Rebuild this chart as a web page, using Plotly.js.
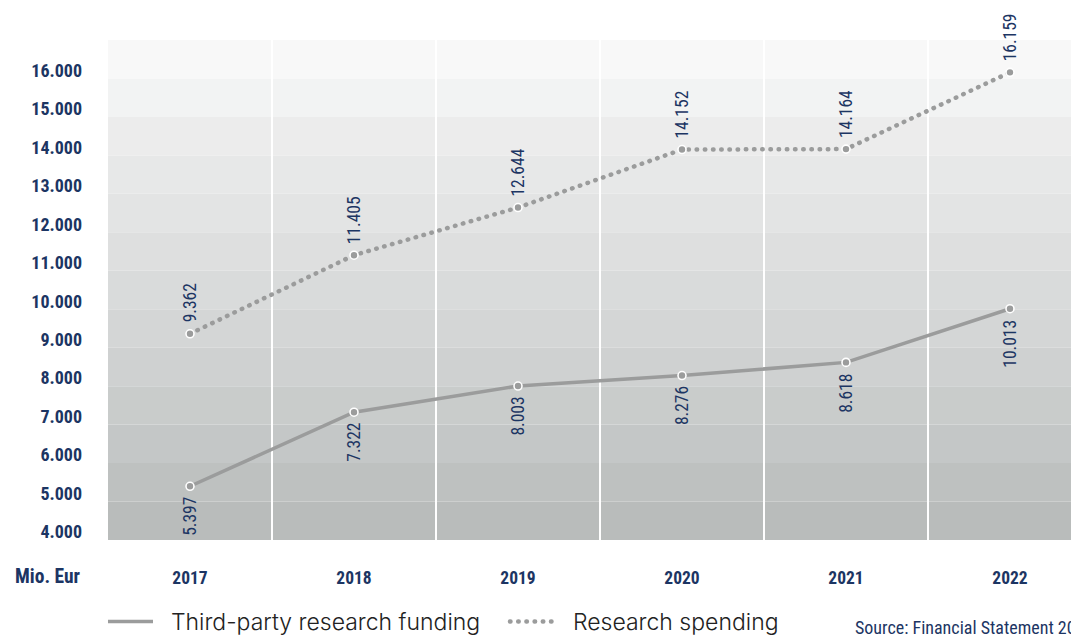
<!DOCTYPE html>
<html>
<head>
<meta charset="utf-8">
<script src="https://cdn.plot.ly/plotly-3.0.1.min.js"></script>
<style>
  html, body { margin: 0; padding: 0; background: #fff; }
  #chart { width: 1071px; height: 638px; }
  path.js-line.roundcap, .roundcap path.js-line { stroke-linecap: round; }
</style>
</head>
<body>
<div id="chart"></div>
<script>
// ---- data ----
const years = ['2017', '2018', '2019', '2020', '2021', '2022'];
const thirdPartyFunding = [5397, 7322, 8003, 8276, 8618, 10013];
const researchSpending = [9362, 11405, 12644, 14152, 14164, 16159];
const yTickValues = [4000, 5000, 6000, 7000, 8000, 9000, 10000, 11000, 12000, 13000, 14000, 15000, 16000];
const yTickLabels = ['4.000', '5.000', '6.000', '7.000', '8.000', '9.000', '10.000', '11.000', '12.000', '13.000', '14.000', '15.000', '16.000'];
const bandEdges = [4000, 5000, 6000, 7000, 8000, 9000, 10000, 11000, 12000, 13000, 14000, 15000, 16000, 17000];
const bandColors = ['#b9bcbb', '#bec1c0', '#c4c7c7', '#c9cccb', '#cfd1d1', '#d4d6d6', '#d9dbdb',
                    '#dedfdf', '#e3e4e4', '#e7e8e8', '#ececec', '#f2f3f3', '#f8f8f8'];
const seriesNames = ['Third-party research funding', 'Research spending'];
const unitLabel = 'Mio. Eur';
const sourceText = 'Source: Financial Statement 2022';

// ---- font helpers ----
const ctx = document.createElement('canvas').getContext('2d');
function hasFont(name) {
  const s = 'mmmmmmmmmmwwwwwlllii0123456789.,';
  for (const base of ['monospace', 'serif']) {
    ctx.font = '72px ' + base;
    const w0 = ctx.measureText(s).width;
    ctx.font = '72px "' + name + '", ' + base;
    if (Math.abs(ctx.measureText(s).width - w0) > 0.5) return true;
  }
  return false;
}
function pick(list) {
  for (const f of list) if (hasFont(f)) return f;
  return list[list.length - 1];
}
function fitSize(sample, targetW, family, weight, minS, maxS) {
  ctx.font = weight + ' 100px "' + family + '", sans-serif';
  const w = ctx.measureText(sample).width;
  let s = targetW * 100 / w;
  return Math.max(minS, Math.min(maxS, Math.round(s * 2) / 2));
}
const narrowFam = pick(['Liberation Sans Narrow', 'Roboto Condensed', 'DejaVu Sans Condensed', 'Roboto']);
const legendFam = pick(['Inter', 'Roboto']);
const NARROW = '"' + narrowFam + '", Roboto, sans-serif';
const LEGENDF = '"' + legendFam + '", Roboto, sans-serif';
const yTickSize = fitSize('16.000', 51, narrowFam, 'bold', 15, 20);
const xTickSize = fitSize('2017', 35, narrowFam, 'bold', 15, 20);
const unitSize = fitSize('Mio. Eur', 65, narrowFam, 'bold', 15, 20);
const labelSize = fitSize('14.152', 48, narrowFam, 'normal', 15, 21);
const sourceSize = fitSize('Source: Financial Statement 20', 218, narrowFam, 'normal', 14, 19);
const legendSize = fitSize('Third-party research funding', 311, legendFam, '300', 19, 25);

// ---- style ----
const NAVY = '#1c3563';
const LINE_GREY = '#9b9c9c';
const PAD = '\u00a0\u00a0';

function fmt(v) {
  return String(v).replace(/\B(?=(\d{3})+(?!\d))/g, '.');
}
const xIdx = years.map((_, i) => i);

const markerStyle = { size: 8, color: LINE_GREY, line: { color: '#ffffff', width: 1.6 } };
const traces = [
  {
    x: years, y: thirdPartyFunding, name: PAD + seriesNames[0],
    type: 'scatter', mode: 'lines', line: { color: LINE_GREY, width: 3.5 },
    hoverinfo: 'skip'
  },
  {
    x: years, y: researchSpending, name: PAD + seriesNames[1],
    type: 'scatter', mode: 'lines', line: { color: LINE_GREY, width: 4.5, dash: '0.5px,7.7px' },
    hoverinfo: 'skip'
  },
  {
    x: years, y: thirdPartyFunding, type: 'scatter', mode: 'markers',
    marker: markerStyle, showlegend: false, hoverinfo: 'skip'
  },
  {
    x: years, y: researchSpending, type: 'scatter', mode: 'markers',
    marker: markerStyle, showlegend: false, hoverinfo: 'skip'
  }
];

const shapes = [];
for (let i = 0; i < bandColors.length; i++) {
  shapes.push({
    type: 'rect', xref: 'paper', yref: 'y', x0: 0, x1: 1,
    y0: bandEdges[i], y1: bandEdges[i + 1],
    fillcolor: bandColors[i], line: { width: 0 }, layer: 'below'
  });
}

const annotations = [];
xIdx.forEach((xi, i) => {
  annotations.push({
    x: xi, y: researchSpending[i], xref: 'x', yref: 'y',
    text: fmt(researchSpending[i]), showarrow: false, textangle: -90,
    xanchor: 'center', yanchor: 'bottom', yshift: 9,
    font: { family: NARROW, size: labelSize, color: NAVY }
  });
  annotations.push({
    x: xi, y: thirdPartyFunding[i], xref: 'x', yref: 'y',
    text: fmt(thirdPartyFunding[i]), showarrow: false, textangle: -90,
    xanchor: 'center', yanchor: 'top', yshift: -9,
    font: { family: NARROW, size: labelSize, color: NAVY }
  });
});
annotations.push({
  text: unitLabel, xref: 'paper', yref: 'paper', x: 0, y: 0,
  xanchor: 'right', yanchor: 'middle', xshift: -25, yshift: -36,
  showarrow: false, font: { family: NARROW, size: unitSize, color: NAVY, weight: 'bold' }
});
annotations.push({
  text: sourceText, xref: 'paper', yref: 'paper', x: 0.7736, y: 0,
  xanchor: 'left', yanchor: 'middle', yshift: -87,
  showarrow: false, font: { family: NARROW, size: sourceSize, color: NAVY }
});

const layout = {
  width: 1071, height: 638,
  margin: { l: 108, r: 0, t: 40, b: 98, pad: 0, autoexpand: false },
  paper_bgcolor: '#ffffff', plot_bgcolor: '#ffffff',
  showlegend: true,
  legend: {
    orientation: 'h', x: -0.0052, xanchor: 'left', y: -0.12, yanchor: 'top',
    xref: 'paper', yref: 'paper',
    font: { family: LEGENDF, size: legendSize, color: '#222222', weight: 300 },
    itemwidth: 45, entrywidth: 342, bgcolor: 'rgba(0,0,0,0)', traceorder: 'normal'
  },
  xaxis: {
    type: 'category', categoryorder: 'array', categoryarray: years,
    range: [-0.5, 5.372], fixedrange: true,
    showgrid: true, tickson: 'boundaries', gridcolor: '#ffffff', gridwidth: 1.5,
    showline: false, zeroline: false, ticks: '', ticklabelstandoff: 25,
    tickfont: { family: NARROW, size: xTickSize, color: NAVY, weight: 'bold' }
  },
  yaxis: {
    range: [4000, 17000], fixedrange: true,
    tickmode: 'array', tickvals: yTickValues, ticktext: yTickLabels,
    showgrid: false, zeroline: false, showline: false, ticks: '',
    ticklabelstandoff: 25, ticklabelshift: -8,
    tickfont: { family: NARROW, size: yTickSize, color: NAVY, weight: 'bold' }
  },
  shapes: shapes,
  annotations: annotations
};

Plotly.newPlot('chart', traces, layout, { displayModeBar: false, staticPlot: true }).then(gd => {
  const tr = gd.querySelectorAll('.scatterlayer .trace');
  if (tr[1]) tr[1].classList.add('roundcap');
  const lt = gd.querySelectorAll('.legend .traces');
  if (lt[1]) lt[1].classList.add('roundcap');
});
</script>
</body>
</html>
